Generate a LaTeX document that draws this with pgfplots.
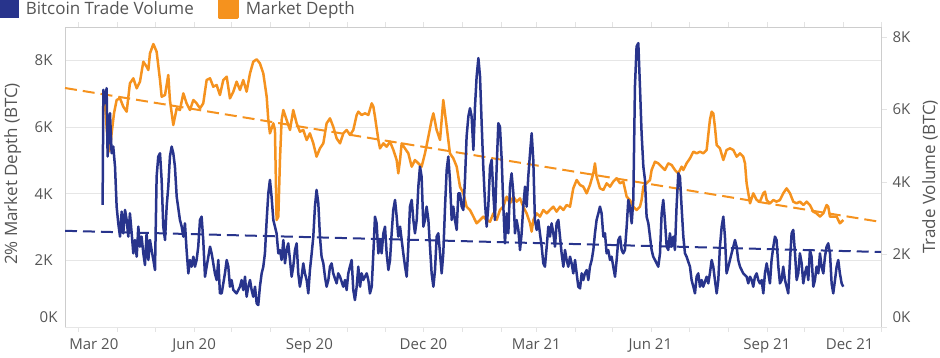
\documentclass[border=0pt]{standalone}
\usepackage{fontspec}
\setmainfont{Open Sans}
\usepackage{pgfplots}
\usepackage{pgfplotstable}
\pgfplotsset{compat=1.18}
\definecolor{tvblue}{RGB}{40,52,140}
\definecolor{mdorange}{RGB}{245,146,30}
\definecolor{txtgray}{RGB}{85,85,85}
\definecolor{gridgray}{RGB}{230,230,230}
\definecolor{framegray}{RGB}{205,205,205}
\newcommand\ff{\fontsize{15}{18}\selectfont}
\newcommand\fl{\fontsize{17}{20}\selectfont}

% Market depth (BTC), x = days since 2020-01-01
\pgfplotstableread{
x y
80.5 6900
83.6 5260
84.9 5310
86.2 5810
88.1 6410
90.2 6810
92.9 6860
95.5 6610
98.2 6460
100.8 7310
103.5 7460
106.2 7160
108.8 7360
111.5 7960
114.1 7810
115.5 7710
116.8 8210
119.5 8490
122.1 8260
124.8 7410
126.1 6910
128.8 6960
131.4 7560
132.7 6810
135.4 6060
138.1 6560
140.7 6510
143.4 7010
146.0 6710
148.7 6510
151.4 6810
154.0 6710
156.7 6560
159.3 6710
162.0 7410
164.7 7460
167.3 7210
170.0 7260
172.6 6960
175.3 7410
178.0 7510
180.6 6860
183.3 7060
185.9 7360
188.6 7110
191.2 7410
193.9 7060
196.6 7610
199.2 7960
201.9 8030
204.5 7910
207.2 7610
209.9 6910
211.2 6210
212.5 5810
215.2 6110
216.5 5910
217.8 3210
219.2 3310
220.5 5010
221.8 6210
223.2 6510
225.8 6210
228.5 5910
231.1 6510
233.8 6110
236.4 5860
239.1 5910
241.8 5610
244.4 5810
247.1 5510
249.7 5110
252.4 5360
255.1 5510
257.7 6110
260.4 6260
263.0 6010
265.7 5660
268.4 5510
271.1 5810
273.7 5910
276.4 5760
279.0 5910
281.7 6360
283.0 6460
285.7 6360
288.3 6410
291.0 6360
293.7 6710
295.0 6610
296.3 6310
299.0 5610
300.3 5360
303.0 5510
305.6 5410
308.3 5560
311.0 5310
313.6 5010
314.9 4610
316.3 5010
317.6 5510
320.2 5360
322.9 5210
325.6 4810
328.2 5010
330.9 4910
333.5 4810
336.2 5210
338.9 5710
341.5 6210
342.9 6410
345.5 5910
348.2 5610
349.5 6210
350.8 6810
353.5 6010
356.1 5210
358.8 5060
361.5 4810
362.8 4510
364.1 4210
366.8 4010
369.4 3610
372.1 3510
374.8 3310
377.4 3110
380.1 3210
382.7 3310
385.4 3210
388.1 3160
390.7 3410
393.4 3210
396.0 3510
398.7 3610
401.4 3910
404.0 3710
406.7 3910
409.3 3760
412.0 3860
414.6 3610
417.3 3410
420.0 3110
421.3 2860
422.6 3210
425.3 3410
427.9 3310
430.6 3510
433.3 3410
435.9 3510
438.6 3610
441.2 3460
443.9 3610
446.6 3510
449.2 3660
451.9 3610
454.5 4160
457.2 4410
459.9 4260
462.5 4210
465.2 4010
467.8 4260
470.5 4610
471.8 4910
473.1 4510
475.8 4160
478.5 4110
481.1 4310
483.8 4210
486.4 4360
489.1 4460
491.8 4310
494.4 4360
497.1 3910
499.7 3810
502.4 3610
505.0 3510
507.7 3610
509.0 3810
510.4 4210
513.0 4310
515.7 4410
517.0 4710
519.7 4960
522.3 4910
525.0 4810
527.6 4710
530.3 4910
533.0 4860
535.6 4710
538.3 4610
540.9 4810
542.3 4710
544.9 4910
547.6 5060
550.3 5260
552.9 5210
555.6 5260
558.2 5210
560.9 5310
563.5 6210
564.9 6460
566.2 6410
567.5 6010
568.9 5460
571.5 5360
574.2 5010
576.8 5310
579.5 5360
582.2 5310
584.8 5110
587.5 5210
590.1 5110
591.5 4910
592.8 4310
595.5 3710
598.1 4010
600.8 3810
603.4 3760
606.1 4010
607.4 4060
608.8 3810
611.4 3710
614.1 3810
616.7 3760
619.4 3810
622.0 4010
624.7 4160
627.4 4010
630.0 3760
632.7 3710
635.3 3760
638.0 3660
640.7 3760
643.3 3660
646.0 3460
648.6 3410
651.3 3310
654.0 3410
656.6 3660
657.9 3610
659.3 3310
661.9 3310
664.6 3310
667.2 3110
669.9 3210
}\depthtable

% Bitcoin trade volume (BTC)
\pgfplotstableread{
x y
79.0 3370
79.6 6546
80.9 6178
82.2 6592
83.0 4704
84.9 5901
86.2 4796
87.5 4980
88.9 4428
90.2 3322
91.5 2862
92.9 2494
94.2 3184
95.5 2586
96.9 3230
98.2 2954
99.5 2494
100.8 3138
102.2 2586
103.5 2033
104.8 2401
106.2 1941
107.5 2770
108.8 2217
110.1 2494
111.5 2033
112.8 1711
114.1 2586
115.5 1849
116.8 2401
118.1 2125
119.5 1849
120.8 1573
122.1 4151
123.4 4704
124.8 4796
126.1 4059
127.4 2770
128.8 2401
130.1 3322
131.4 3875
132.7 4704
134.1 4980
135.4 4796
136.7 4428
138.1 3599
140.7 2954
142.1 2770
143.4 2494
144.7 2862
146.0 2125
147.4 1480
148.7 1849
150.0 1665
151.4 1941
152.7 1665
154.0 1849
155.3 2217
156.7 2954
158.0 3046
159.3 2401
160.7 1388
162.0 1665
164.7 2217
166.0 2033
167.3 1757
168.6 1480
170.0 1296
171.3 1849
172.6 928
174.0 928
175.3 1204
176.6 1480
178.0 1849
179.3 1665
180.6 1112
181.9 1296
183.3 1020
185.9 928
188.6 1112
189.9 1296
191.2 1020
192.6 1388
193.9 836
195.2 1112
196.6 1296
197.9 1020
199.2 836
200.6 1112
201.9 652
203.2 606
204.5 1112
205.9 1480
207.2 1665
208.5 2033
209.9 2954
211.2 3691
212.5 4059
213.8 3599
215.2 2954
216.5 2770
217.8 2586
219.2 2033
220.5 2125
221.8 1849
223.2 2401
224.5 1757
225.8 2125
227.1 2309
228.5 1849
229.8 1388
231.1 1665
232.5 2125
233.8 2309
235.1 1480
236.4 1112
237.8 1388
239.1 1757
240.4 1480
241.8 1296
243.1 928
244.4 1573
245.8 2033
247.1 2494
248.4 3322
249.7 3783
251.1 3415
252.4 2494
253.7 1941
255.1 1757
256.4 1388
257.7 1112
259.1 1296
260.4 1665
261.7 1757
263.0 1480
265.7 1204
267.0 1480
268.4 1388
271.0 1112
272.4 1296
273.7 1020
275.0 1480
276.3 1665
277.7 1849
279.0 1020
280.3 744
281.7 1112
283.0 1665
284.4 1112
285.7 1480
287.0 1296
288.3 1388
289.7 1480
291.0 1296
292.3 928
293.7 1112
295.0 2033
296.3 3046
297.6 2862
299.0 2033
300.3 2401
301.6 2033
303.0 2586
304.3 2770
305.6 2033
307.0 1573
308.3 1849
309.6 2586
310.9 3230
312.3 3507
313.6 3046
314.9 2494
316.3 2770
317.6 2401
318.9 2033
320.3 1665
321.6 1388
322.9 2217
324.2 3322
325.6 3507
326.9 2954
328.2 2586
329.6 2954
330.9 3875
332.2 4428
333.5 4151
334.9 2770
336.2 2954
337.5 3322
338.9 2954
340.2 2217
341.5 1480
342.9 1112
344.2 1573
345.5 2494
346.8 2586
348.2 2033
349.5 1480
350.8 2033
352.2 3322
353.5 4336
354.8 4704
356.1 4059
357.5 2954
358.8 3322
360.1 2954
361.5 2678
362.8 3691
364.1 3691
365.5 3322
366.8 3230
368.1 4059
369.4 5257
370.8 5809
372.1 6039
373.4 5809
374.8 4888
376.1 6085
377.4 6914
378.8 7421
380.1 6914
381.4 5625
382.7 4428
384.1 3415
385.4 2770
386.7 3322
388.1 4428
389.4 4612
390.7 3691
392.0 2954
393.4 4428
394.7 5625
396.0 5533
397.4 4612
398.7 3322
400.0 2309
401.4 3138
402.7 2586
404.0 3875
405.3 4243
406.7 3691
408.0 2586
409.3 2954
410.7 2678
412.0 2125
413.3 2586
414.6 3322
416.0 3875
417.3 3322
418.6 4151
420.0 4796
421.3 5349
422.6 4612
423.9 2954
425.3 2678
426.6 2954
427.9 2586
429.3 2217
430.6 1757
431.9 1665
433.3 2217
434.6 2770
435.9 2494
437.2 2862
438.6 2586
439.9 2217
441.2 2862
442.6 2954
443.9 2494
445.2 2033
446.6 1665
447.9 2125
449.2 1849
450.5 1665
451.9 1941
453.2 1757
454.5 1480
455.9 1849
457.2 1480
458.5 1112
459.9 1066
461.2 1480
462.5 1296
463.8 1480
465.2 1573
466.5 1296
467.8 1665
469.2 1849
470.5 2125
471.8 2586
473.1 2954
474.5 3138
475.8 3322
477.1 3138
478.5 2494
479.8 2586
481.1 2033
482.4 2125
483.8 1849
485.1 1941
486.4 1665
487.8 1388
489.1 1849
490.4 2401
491.8 2494
493.1 2125
494.4 2033
495.7 2125
497.1 2770
498.4 3507
499.7 3322
501.1 2862
502.4 3507
503.7 6638
505.0 7743
506.4 7835
507.7 6638
509.0 5349
510.4 4428
511.7 4059
513.0 3046
514.4 2862
515.7 2494
517.0 2125
518.3 1941
519.7 1849
521.0 1757
522.3 1665
523.7 2033
525.0 3138
526.3 3507
527.6 2954
529.0 2217
530.3 2125
531.6 2586
533.0 2217
534.3 2494
535.6 2125
536.9 3322
538.3 4243
539.6 4151
540.9 3322
542.3 2494
543.6 2033
544.9 1941
547.6 1665
548.9 1296
550.3 1112
551.6 928
552.9 1388
554.2 1480
555.6 1112
556.9 1296
558.2 1112
560.9 1388
562.2 1204
563.5 1480
564.9 1849
566.2 1665
567.5 1296
568.9 928
570.2 1296
571.5 2217
572.9 2770
574.2 3046
575.5 2494
576.8 1480
578.2 1665
579.5 1849
580.8 2033
582.2 2217
583.5 2401
584.8 2217
586.1 1849
587.5 1665
590.1 1480
592.8 1388
594.1 1204
595.5 1388
596.8 1296
598.1 1112
599.4 1388
600.8 1480
602.1 1296
603.4 1204
604.8 1296
606.1 928
607.4 1480
608.8 1757
610.1 1480
611.4 1204
612.7 1849
614.1 2217
615.4 2494
616.7 2401
618.1 1665
619.4 1204
620.7 1296
622.0 1665
623.4 1296
624.7 1112
626.0 928
627.4 1849
628.7 2586
630.0 2678
631.4 2033
632.7 1296
634.0 1480
635.3 2033
636.7 1757
638.0 1204
639.3 1480
640.7 1665
642.0 1296
643.3 2125
644.6 1941
646.0 1112
647.3 1296
648.6 1665
650.0 1480
651.3 2033
652.6 1665
654.0 1480
655.3 1941
656.6 2217
657.9 2309
659.3 2033
660.6 1204
661.9 928
663.3 1296
664.6 1665
665.9 1849
667.2 1480
668.6 1204
669.9 1112
}\volumetable

\begin{document}
\begin{tikzpicture}[x=1pt,y=1pt]
\useasboundingbox (0,0) rectangle (940,357);
\begin{axis}[
  at={(65pt,30pt)}, anchor=south west,
  width=816pt, height=300pt, scale only axis,
  xmin=49, xmax=700, ymin=0, ymax=9000,
  axis line style={framegray, line width=0.8pt},
  xtick={60,91,121,152,182,213,244,274,305,335,366,397,425,456,486,517,547,578,609,639,670,700},
  xticklabels={},
  x tick style={gridgray!80!black!40, line width=0.8pt},
  tick align=outside, major tick length=5pt,
  extra x ticks={72,152,244,335,425,516,609,675},
  extra x tick labels={Mar 20,Jun 20,Sep 20,Dec 20,Mar 21,Jun 21,Sep 21,Dec 21},
  extra x tick style={major tick length=0pt, xticklabel style={yshift=-8pt}},
  ytick={2000,4000,6000,8000},
  yticklabels={2K,4K,6K,8K},
  extra y ticks={0},
  extra y tick labels={0K},
  extra y tick style={major tick length=0pt, yticklabel style={yshift=10pt}},
  y tick style={draw=none},
  ymajorgrids, grid style={gridgray, line width=0.8pt},
  tick label style={font=\ff, text=txtgray},
  yticklabel style={xshift=-4pt},
  every axis y label/.style={at={(axis description cs:-0.064,0.51)}, rotate=90, anchor=center, font=\fl, text=txtgray},
  ylabel={2\% Market Depth (BTC)},
  legend style={at={(axis description cs:-0.0797,1.096)}, anchor=north west, draw=none, fill=none, inner sep=0pt, outer sep=0pt, font=\fl, text=txtgray, /tikz/every even column/.append style={column sep=22pt}},
  legend columns=2, legend cell align=left,
  legend image code/.code={\fill[#1] (0pt,-9pt) rectangle (18.5pt,9pt); \path (23.5pt,0pt);},
]
\addlegendimage{tvblue}
\addlegendentry{Bitcoin Trade Volume}
\addplot[mdorange, line width=2.5pt, line join=round] table[x=x,y=y] {\depthtable};
\addlegendentry{Market Depth}
\addplot[mdorange, line width=2pt, dash pattern=on 12pt off 6pt, forget plot] coordinates {(49,7170) (700,3150)};
\end{axis}
\begin{axis}[
  at={(65pt,30pt)}, anchor=south west,
  width=816pt, height=300pt, scale only axis,
  xmin=49, xmax=700, ymin=0, ymax=8280,
  axis x line=none, axis y line*=right,
  axis line style={framegray, line width=0.8pt},
  ytick={0,2000,4000,6000,8000},
  yticklabels={,2K,4K,6K,8K},
  extra y ticks={0},
  extra y tick labels={0K},
  extra y tick style={yticklabel style={yshift=10pt}},
  tick align=outside, major tick length=6pt,
  y tick style={gridgray!80!black!40, line width=0.8pt},
  tick label style={font=\ff, text=txtgray},
  yticklabel style={xshift=2pt},
  every axis y label/.style={at={(axis description cs:1.060,0.50)}, rotate=90, anchor=center, font=\fl, text=txtgray},
  ylabel={Trade Volume (BTC)},
]
\addplot[tvblue, line width=2.5pt, line join=round] table[x=x,y=y] {\volumetable};
\addplot[tvblue, line width=2pt, dash pattern=on 12pt off 6pt] coordinates {(49,2655) (700,2070)};
\end{axis}
\end{tikzpicture}
\end{document}
